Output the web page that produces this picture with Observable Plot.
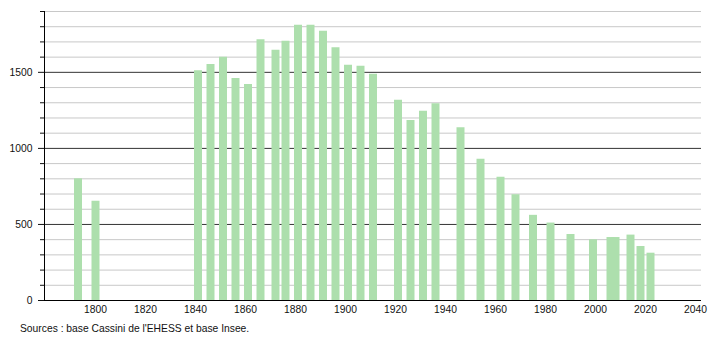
<!DOCTYPE html>
<html><head><meta charset="utf-8">
<script src="https://cdn.jsdelivr.net/npm/d3@7"></script>
<script src="https://cdn.jsdelivr.net/npm/@observablehq/plot@0.6"></script>
<style>
body{margin:0;background:#fff;font-family:"Liberation Sans",Arial,sans-serif;}
#chart{position:relative;width:710px;height:340px;}
#cap{position:absolute;left:20px;top:323px;font-size:10.3px;color:#111;line-height:12px;white-space:nowrap;}
</style></head>
<body><div id="chart"><div id="cap">Sources : base Cassini de l'EHESS et base Insee.</div></div>
<script>
const years = [1793,1800,1841,1846,1851,1856,1861,1866,1872,1876,1881,1886,1891,1896,1901,1906,1911,1921,1926,1931,1936,1946,1954,1962,1968,1975,1982,1990,1999,2006,2008,2014,2018,2022];
const population = [800,652,1510,1552,1600,1460,1420,1715,1645,1704,1809,1810,1770,1662,1546,1540,1487,1316,1184,1245,1294,1136,928,811,695,560,509,434,399,414,414,430,355,311];
const xTicks = [1800,1820,1840,1860,1880,1900,1920,1940,1960,1980,2000,2020,2040];
const yMajor = [0,500,1000,1500];
const yMinor = d3.range(0,1901,100).filter(v => v % 500 !== 0);
const xDomain = [1779.6, 2042.4];
const yDomain = [0, 1900];

const data = years.map((y,i) => ({year:y, pop:population[i]}));

const chart = Plot.plot({
  width:710, height:320,
  marginTop:11, marginBottom:20, marginLeft:44, marginRight:9,
  style:{fontFamily:'"Liberation Sans", Arial, sans-serif', fontSize:"10.3px", color:"#111", background:"#fff"},
  x:{domain:xDomain, label:null},
  y:{domain:yDomain, label:null},
  marks:[
    Plot.gridY(yMinor, {stroke:"#c8c8c8", strokeOpacity:1}),
    Plot.gridY(yMajor.filter(v=>v>0), {stroke:"#333", strokeOpacity:1}),
    Plot.ruleX(data, {x:"year", y1:0, y2:"pop", stroke:"#addfad", strokeWidth:8}),
    Plot.axisY(yMinor, {tickSize:4, text:null, stroke:"#111", label:null}),
    Plot.axisY(yMajor, {tickSize:6, tickPadding:6, stroke:"#111", fill:"#111", label:null, tickFormat:d => String(d)}),
    Plot.axisX(xTicks, {tickSize:0, tickPadding:5, fill:"#111", label:null, tickFormat:d => String(d)}),
    Plot.ruleX([xDomain[0]], {y1:yDomain[0], y2:yDomain[1], stroke:"#000"}),
    Plot.ruleY([0], {stroke:"#000"})
  ]
});
document.getElementById("chart").prepend(chart);
</script>
</body></html>
